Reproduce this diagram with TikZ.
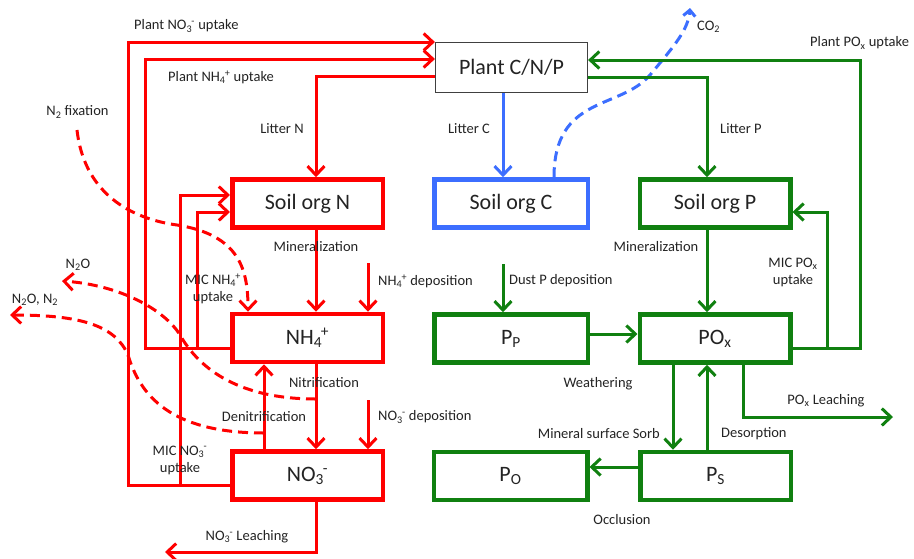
\documentclass[tikz,border=0pt]{standalone}
\usepackage{fontspec}
\setmainfont{Carlito}
\usetikzlibrary{arrows.meta}
\definecolor{rd}{RGB}{255,0,0}
\definecolor{gn}{RGB}{16,128,16}
\definecolor{bl}{RGB}{60,110,255}
\definecolor{tx}{RGB}{35,35,35}
\newcommand\subsupseq[2]{\textsubscript{#1}\kern-0.05em\textsuperscript{#2}}
\begin{document}
\begin{tikzpicture}[x=1pt,y=-1pt,
  pool/.style={draw, line width=4.5pt, minimum width=150.5pt, minimum height=48pt,
    inner sep=0pt, fill=white, font=\fontsize{22}{24}\selectfont, text=tx},
  lbl/.style={font=\fontsize{14.5}{17}\selectfont, text=tx, inner sep=0pt, align=center},
  flow/.style={line width=3pt, -{Straight Barb[length=9pt,width=17pt]}},
  rflow/.style={flow, draw=rd},
  gflow/.style={flow, draw=gn},
  bflow/.style={flow, draw=bl},
  rdash/.style={rflow, dash pattern=on 10pt off 6pt},
  bdash/.style={flow, draw=bl, dash pattern=on 10pt off 6pt, -{Straight Barb[length=6pt,width=12pt]}}
]
\useasboundingbox (0,0) rectangle (914,558);

% ---------- pools ----------
\node[draw=black!75, line width=1.2pt, minimum width=152pt, minimum height=50pt, inner sep=0pt,
  fill=white, font=\fontsize{22}{24}\selectfont, text=tx] (plant) at (511.5,67.5) {Plant C/N/P};
\node[pool, draw=rd] (son) at (307.5,203.5) {Soil org N};
\node[pool, draw=bl, minimum width=153.5pt] (soc) at (511,203.5) {Soil org C};
\node[pool, draw=gn] (sop) at (715,203.5) {Soil org P};
\node[pool, draw=rd] (nh4) at (307.5,338) {NH\subsupseq{4}{+}};
\node[pool, draw=gn, minimum width=153.5pt] (pp) at (511,338.5) {P\textsubscript{P}};
\node[pool, draw=gn] (pox) at (715,338.5) {PO\textsubscript{x}};
\node[pool, draw=rd] (no3) at (307.5,475.5) {NO\subsupseq{3}{-}};
\node[pool, draw=gn, minimum width=153.5pt] (po) at (510.5,476) {P\textsubscript{O}};
\node[pool, draw=gn] (ps) at (715.5,476) {P\textsubscript{S}};

% ---------- free ends ----------
\coordinate (co2tip) at (690,8);
\coordinate (dust) at (503,264);
\coordinate (poxleach) at (893,417);
\coordinate (nh4dep) at (368,263);
\coordinate (no3dep) at (368,400);
\coordinate (no3leach) at (165,552);
\coordinate (n2fix) at (77,130);
\coordinate (n2o) at (62,281);
\coordinate (n2on2) at (10,315);
\coordinate (nitpt) at (316,399);
\coordinate (denpt) at (264,433);

% ---------- nitrogen ----------
\draw[rflow] (no3.west |- 0,485) -- (128,485) -- (128,42) -- (plant.west |- 0,42);
\draw[rflow] (nh4.west |- 0,348) -- (145,348) -- (145,59) -- (plant.west |- 0,59);
\draw[rflow] (plant.west |- 0,76) -- (316,76) -- (son.north -| 316,0);
\draw[rflow] (son.south -| 316,0) -- (nh4.north -| 316,0);
\draw[rflow] (nh4dep) -- (nh4.north -| 368,0);
\draw[rflow] (nh4.south -| 316,0) -- (no3.north -| 316,0);
\draw[rflow] (no3dep) -- (no3.north -| 368,0);
\draw[rflow] (no3.north -| 264,0) -- (nh4.south -| 264,0);
\draw[rflow] (nh4.west |- 0,348) -- (197,348) -- (197,212) -- (son.west |- 0,212);
\draw[rflow] (no3.west |- 0,485) -- (180,485) -- (180,195) -- (son.west |- 0,195);
\draw[rflow] (no3.south -| 316,0) -- (316,552) -- (no3leach);
\draw[rdash] (n2fix) .. controls (85,200) and (140,220) .. (177,225)
  .. controls (240,235) and (248,270) .. (nh4.north -| 248,0);
\draw[rdash] (nitpt) .. controls (240,399) and (200,370) .. (180,335)
  .. controls (165,310) and (120,285) .. (n2o);
\draw[rdash] (denpt) .. controls (170,433) and (140,395) .. (128,355)
  .. controls (115,325) and (80,315) .. (n2on2);

% ---------- carbon ----------
\draw[bflow] (plant.south -| 503,0) -- (soc.north -| 503,0);
\draw[bdash] (soc.north -| 554,0) .. controls (554,95) and (620,110) .. (650,75)
  .. controls (675,45) and (688,30) .. (co2tip);

% ---------- phosphorus ----------
\draw[gflow] (pox.east |- 0,348) -- (860,348) -- (860,60) -- (plant.east |- 0,60);
\draw[gflow] (plant.east |- 0,77) -- (707,77) -- (sop.north -| 707,0);
\draw[gflow] (pox.east |- 0,348) -- (827,348) -- (827,212) -- (sop.east |- 0,212);
\draw[gflow] (sop.south -| 707,0) -- (pox.north -| 707,0);
\draw[gflow] (dust) -- (pp.north -| 503,0);
\draw[gflow] (pp.east |- 0,334) -- (pox.west |- 0,334);
\draw[gflow] (pox.south -| 673,0) -- (ps.north -| 673,0);
\draw[gflow] (ps.north -| 707,0) -- (pox.south -| 707,0);
\draw[gflow] (pox.south -| 743,0) -- (743,417) -- (poxleach);
\draw[gflow] (ps.west |- 0,467) -- (po.east |- 0,467);

% ---------- labels ----------
\node[lbl, anchor=west] at (134,26) {Plant NO\subsupseq{3}{-} uptake};
\node[lbl, anchor=west] at (168,77) {Plant NH\subsupseq{4}{+} uptake};
\node[lbl] at (282,129) {Litter N};
\node[lbl] at (77.5,112) {N\textsubscript{2} fixation};
\node[lbl] at (469,129) {Litter C};
\node[lbl, anchor=west] at (697,27) {CO\textsubscript{2}};
\node[lbl, anchor=west] at (810,43) {Plant PO\textsubscript{x} uptake};
\node[lbl, anchor=west] at (720,129) {Litter P};
\node[lbl] at (316,247) {Mineralization};
\node[lbl] at (656,247) {Mineralization};
\node[lbl, anchor=west] at (378,281) {NH\subsupseq{4}{+} deposition};
\node[lbl, anchor=west] at (509,281) {Dust P deposition};
\node[lbl] at (213,289) {MIC NH\subsupseq{4}{+}\\uptake};
\node[lbl] at (793,272) {MIC PO\textsubscript{x}\\uptake};
\node[lbl] at (78,265) {N\textsubscript{2}O};
\node[lbl] at (35,300) {N\textsubscript{2}O, N\textsubscript{2}};
\node[lbl] at (324,383) {Nitrification};
\node[lbl] at (598,384) {Weathering};
\node[lbl] at (264,417) {Denitrification};
\node[lbl, anchor=west] at (378,417) {NO\subsupseq{3}{-} deposition};
\node[lbl] at (826,401) {PO\textsubscript{x} Leaching};
\node[lbl, anchor=east] at (660,434) {Mineral surface Sorb};
\node[lbl, anchor=west] at (721,434) {Desorption};
\node[lbl] at (180,460) {MIC NO\subsupseq{3}{-}\\uptake};
\node[lbl] at (247,537) {NO\subsupseq{3}{-} Leaching};
\node[lbl] at (622,520) {Occlusion};
\end{tikzpicture}
\end{document}
